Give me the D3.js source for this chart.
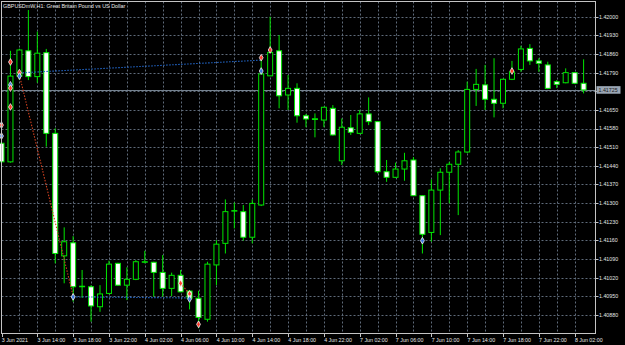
<!DOCTYPE html>
<html>
<head>
<meta charset="utf-8">
<script src="https://cdn.jsdelivr.net/npm/d3@7"></script>
<style>
  html, body { margin: 0; padding: 0; background: #000; }
  svg { display: block; }
  text { font-family: "Liberation Sans", Arial, sans-serif; fill: #e6e6e6; }
</style>
</head>
<body>
<div id="chart"></div>
<script>
// --- GBPUSD H1 candles, 3 Jun 10:00 .. 8 Jun 03:00 ---
const opens = [1.41525,1.41455,1.41777,1.41872,1.41775,1.41865,1.41562,1.41102,1.41151,1.40986,
  1.40986,1.40911,1.40961,1.41074,1.40992,1.41014,1.41078,1.41078,1.41040,1.40980,
  1.41029,1.40970,1.40943,1.40864,1.41068,1.41149,1.41270,1.41268,1.41172,1.41293,
  1.41778,1.41872,1.41706,1.41731,1.41628,1.41614,1.41612,1.41656,1.41459,1.41583,
  1.41562,1.41635,1.41606,1.41418,1.41397,1.41428,1.41462,1.41328,1.41190,1.41349,
  1.41416,1.41446,1.41492,1.41727,1.41744,1.41690,1.41675,1.41765,1.41802,1.41881,
  1.41834,1.41819,1.41756,1.41752,1.41790,1.41750];
const highs = [1.41537,1.41872,1.41880,1.42025,1.41944,1.41879,1.41581,1.41209,1.41176,1.41049,
  1.40992,1.40992,1.41084,1.41076,1.41059,1.41086,1.41121,1.41080,1.41105,1.41039,
  1.41049,1.40974,1.40971,1.41080,1.41161,1.41314,1.41302,1.41293,1.41314,1.41837,
  1.42000,1.41931,1.41781,1.41750,1.41635,1.41637,1.41662,1.41668,1.41618,1.41631,
  1.41650,1.41697,1.41608,1.41462,1.41452,1.41489,1.41473,1.41330,1.41389,1.41431,
  1.41455,1.41499,1.41756,1.41804,1.41819,1.41844,1.41767,1.41834,1.41891,1.41897,
  1.41844,1.41831,1.41762,1.41806,1.41792,1.41840];
const lows = [1.41451,1.41452,1.41762,1.41762,1.41752,1.41512,1.41074,1.40999,1.40930,1.40944,
  1.40855,1.40892,1.40958,1.40990,1.40936,1.41011,1.41074,1.40949,1.40949,1.40951,
  1.40966,1.40901,1.40830,1.40855,1.40992,1.41111,1.41205,1.41159,1.41149,1.41289,
  1.41777,1.41656,1.41650,1.41602,1.41585,1.41547,1.41585,1.41554,1.41443,1.41556,
  1.41559,1.41593,1.41412,1.41380,1.41394,1.41384,1.41327,1.41111,1.41155,1.41180,
  1.41299,1.41255,1.41488,1.41665,1.41650,1.41622,1.41656,1.41762,1.41793,1.41819,
  1.41793,1.41728,1.41732,1.41750,1.41747,1.41712];
const closes = [1.41455,1.41777,1.41875,1.41775,1.41863,1.41562,1.41111,1.41155,1.40986,1.40988,
  1.40914,1.40959,1.41071,1.40992,1.41014,1.41080,1.41080,1.41040,1.40980,1.41029,
  1.40967,1.40943,1.40871,1.41071,1.41146,1.41268,1.41272,1.41172,1.41299,1.41785,
  1.41866,1.41703,1.41731,1.41628,1.41616,1.41617,1.41660,1.41556,1.41585,1.41566,
  1.41635,1.41606,1.41418,1.41397,1.41428,1.41459,1.41328,1.41183,1.41349,1.41416,
  1.41446,1.41492,1.41727,1.41746,1.41690,1.41675,1.41765,1.41793,1.41879,1.41834,
  1.41825,1.41731,1.41746,1.41790,1.41750,1.41725];

// time axis labels and the bar they sit on
const timeLabels = ["3 Jun 2021","3 Jun 14:00","3 Jun 18:00","3 Jun 22:00","4 Jun 02:00","4 Jun 06:00",
  "4 Jun 10:00","4 Jun 14:00","4 Jun 18:00","4 Jun 22:00","7 Jun 02:00","7 Jun 06:00",
  "7 Jun 10:00","7 Jun 14:00","7 Jun 18:00","7 Jun 22:00","8 Jun 02:00"];
const timeLabelBars = [0,4,8,12,16,20,24,28,32,36,40,44,48,52,56,60,64];

const priceTicks = [1.42000,1.41930,1.41860,1.41790,1.41720,1.41650,1.41580,1.41510,1.41440,
  1.41370,1.41300,1.41230,1.41160,1.41090,1.41020,1.40950,1.40880];

// trade history: dotted lines and arrows
const tradeFromBar = [2, 2, 8, 20];
const tradeFromPrice = [1.41789, 1.41781, 1.40948, 1.40999];
const tradeToBar = [29, 8, 21, 21];
const tradeToPrice = [1.41837, 1.40951, 1.40944, 1.40959];
const tradeColor = ["#2266c8", "#d0401f", "#2266c8", "#d0401f"];

const arrowBars = [0, 0, 1, 1, 1, 1, 2, 2, 8, 20, 21, 21, 22, 29, 29, 30, 47, 57];
const arrowPrices = [1.41593, 1.41552, 1.41830, 1.41744, 1.41732, 1.41661, 1.41790, 1.41777,
  1.40948, 1.40999, 1.40959, 1.40940, 1.40845, 1.41796, 1.41846, 1.41875, 1.41159, 1.41796];
const arrowKinds = ["sell","buy","sell","buy","sell","sell","sell","buy",
  "buy","sell","sell","buy","sell","buy","sell","sell","buy","sell"];

const bidPrice = 1.41725;
const title = "GBPUSDmW,H1:  Great Britain Pound vs US Dollar";

const W = 625, H = 345;
const plot = { left: 1.5, top: 1.5, right: 595.5, bottom: 333.5 };
const green = "#00e600";
const gridColor = "#5f6b7a";

const svg = d3.select("#chart").append("svg")
  .attr("width", W).attr("height", H)
  .style("background", "#000");

const x = d3.scaleLinear().domain([0, 65]).range([1.5, 583.6]);
const y = d3.scaleLinear().domain([1.40880, 1.42000]).range([315, 16.7]);

svg.append("defs").append("clipPath").attr("id", "clip")
  .append("rect").attr("x", 0).attr("y", plot.top)
  .attr("width", plot.right).attr("height", plot.bottom - plot.top);

// grid
const grid = svg.append("g");
grid.selectAll(".hg").data(priceTicks).enter().append("line")
  .attr("x1", plot.left).attr("x2", plot.right)
  .attr("y1", d => Math.round(y(d)) + 0.5).attr("y2", d => Math.round(y(d)) + 0.5)
  .attr("stroke", gridColor).attr("stroke-dasharray", "2,2");
const vBars = d3.range(2, 66, 2);
grid.selectAll(".vg").data(vBars).enter().append("line")
  .attr("y1", plot.top).attr("y2", plot.bottom)
  .attr("x1", d => Math.round(x(d)) + 0.5).attr("x2", d => Math.round(x(d)) + 0.5)
  .attr("stroke", gridColor).attr("stroke-dasharray", "2,2");

// bid line
svg.append("line")
  .attr("x1", plot.left).attr("x2", plot.right)
  .attr("y1", Math.round(y(bidPrice)) + 0.5).attr("y2", Math.round(y(bidPrice)) + 0.5)
  .attr("stroke", "#75828f");

const g = svg.append("g").attr("clip-path", "url(#clip)");

const idx = d3.range(opens.length);
g.selectAll(".wick").data(idx).enter().append("line")
  .attr("x1", i => x(i)).attr("x2", i => x(i))
  .attr("y1", i => y(highs[i])).attr("y2", i => y(lows[i]))
  .attr("stroke", green).attr("stroke-width", 1);

g.selectAll(".body").data(idx).enter().append("rect")
  .attr("x", i => x(i) - 2.5).attr("width", 5)
  .attr("y", i => Math.min(y(opens[i]), y(closes[i])))
  .attr("height", i => Math.max(Math.abs(y(opens[i]) - y(closes[i])), 0.3))
  .attr("fill", i => closes[i] > opens[i] ? "#000" : "#fff")
  .attr("stroke", green).attr("stroke-width", 1);

// trade lines
g.selectAll(".trade").data(tradeFromBar).enter().append("line")
  .attr("x1", (d, i) => x(tradeFromBar[i])).attr("y1", (d, i) => y(tradeFromPrice[i]))
  .attr("x2", (d, i) => x(tradeToBar[i])).attr("y2", (d, i) => y(tradeToPrice[i]))
  .attr("stroke", (d, i) => tradeColor[i]).attr("stroke-width", 1.1)
  .attr("stroke-dasharray", "1.5,1.5");

// arrows
const diamond = d3.symbol().type(d3.symbolDiamond).size(13);
g.selectAll(".arrow").data(arrowBars).enter().append("path")
  .attr("d", diamond)
  .attr("transform", (d, i) => `translate(${x(arrowBars[i])},${y(arrowPrices[i])})`)
  .attr("fill", (d, i) => arrowKinds[i] === "buy" ? "#3a78e0" : "#ff3a2a")
  .attr("stroke", "#f0f0f0").attr("stroke-width", 0.8);

// frame
svg.append("rect")
  .attr("x", plot.left).attr("y", plot.top)
  .attr("width", plot.right - plot.left).attr("height", plot.bottom - plot.top)
  .attr("fill", "none").attr("stroke", "#c4c4c4");

// price axis
svg.selectAll(".ptick").data(priceTicks).enter().append("line")
  .attr("x1", plot.right).attr("x2", plot.right + 3)
  .attr("y1", d => Math.round(y(d)) + 0.5).attr("y2", d => Math.round(y(d)) + 0.5)
  .attr("stroke", "#c4c4c4");
svg.selectAll(".plabel").data(priceTicks).enter().append("text")
  .attr("x", 599).attr("y", d => y(d) + 1.9)
  .attr("font-size", 5.3)
  .text(d => d.toFixed(5));

// bid label
const by = y(bidPrice);
svg.append("rect").attr("x", 596.5).attr("y", by - 3.8).attr("width", 24).attr("height", 7.6)
  .attr("fill", "#9aa6b4");
svg.append("text").attr("x", 598.5).attr("y", by + 1.9)
  .attr("font-size", 5.3).style("fill", "#1a1a1a")
  .text(bidPrice.toFixed(5));

// time axis
svg.selectAll(".ttick").data(timeLabelBars).enter().append("line")
  .attr("x1", d => Math.round(x(d)) + 0.5).attr("x2", d => Math.round(x(d)) + 0.5)
  .attr("y1", plot.bottom).attr("y2", plot.bottom + 3.5)
  .attr("stroke", "#c4c4c4");
svg.selectAll(".tlabel").data(timeLabelBars).enter().append("text")
  .attr("x", d => Math.max(x(d), 1.5) + 0.3).attr("y", 341.5)
  .attr("font-size", 5.3)
  .text((d, i) => timeLabels[i]);

// title
svg.append("text").attr("x", 3).attr("y", 7.6)
  .attr("font-size", 5.4)
  .text(title);
</script>
</body>
</html>
